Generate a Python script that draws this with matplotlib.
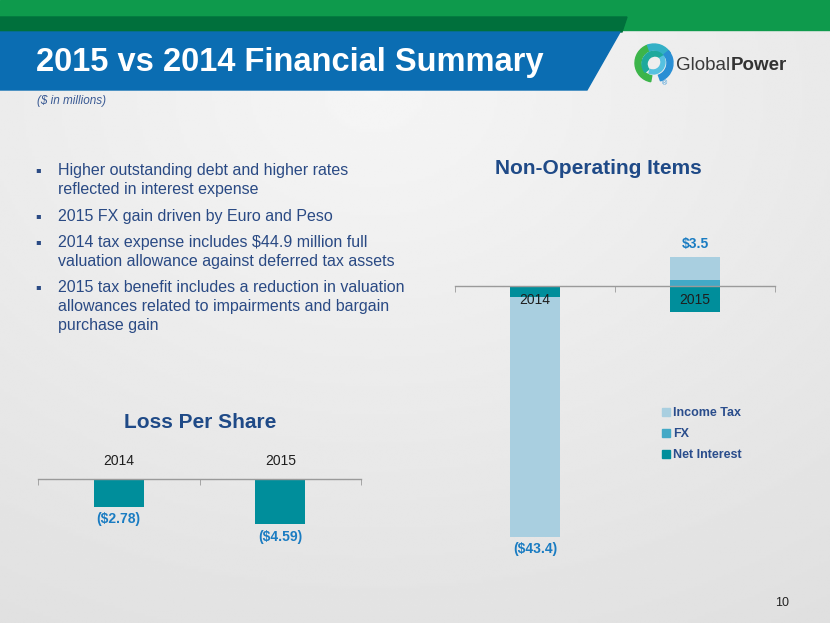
import numpy as np
import matplotlib
matplotlib.use('Agg')
import matplotlib.pyplot as plt
from matplotlib.patches import Polygon, Wedge, Rectangle, Patch

plt.rcParams['font.family'] = ['Liberation Sans', 'DejaVu Sans']

# data
years = ['2014', '2015']
net_interest = [-1.85, -4.5]
fx = [0.0, 1.05]
income_tax = [-41.5, 4.0]
op_labels = ['($43.4)', '$3.5']

loss_per_share = [-2.78, -4.59]
lps_labels = ['($2.78)', '($4.59)']

bullets = [
    ['Higher outstanding debt and higher rates', 'reflected in interest expense'],
    ['2015 FX gain driven by Euro and Peso'],
    ['2014 tax expense includes $44.9 million full', 'valuation allowance against deferred tax assets'],
    ['2015 tax benefit includes a reduction in valuation',
     'allowances related to impairments and bargain', 'purchase gain'],
]

# colours
c_net = '#008e9b'
c_fx = '#43a9c6'
c_tax = '#a9cfe0'
c_val = '#1a7cc2'
c_text = '#2a4a84'
c_head = '#1f4a87'

W, H = 830, 623
fig = plt.figure(figsize=[W / 100, H / 100], dpi=100)

# background in pixel coords
bg = fig.add_axes([0, 0, 1, 1])
bg.set_xlim(0, W)
bg.set_ylim(H, 0)
bg.axis('off')
xx, yy = np.meshgrid(np.linspace(0, 1, 300), np.linspace(0, 1, 225))
d = np.sqrt((xx - 0.45) ** 2 + (yy - 0.15) ** 2)
shade = 0.962 - 0.085 * d
bg.imshow(shade, cmap='gray', vmin=0, vmax=1, extent=[0, W, H, 0], aspect='auto',
          interpolation='bilinear', zorder=0)

# header bands
bg.add_patch(Rectangle((0, 0), W, 30, color='#0e9a4c', zorder=1))
bg.add_patch(Polygon([[0, 17], [627, 17], [622, 32], [0, 32]], closed=True, color='#00703c', zorder=2))
bg.add_patch(Polygon([[0, 32], [620, 32], [587, 90], [0, 90]], closed=True, color='#0b6db2', zorder=3))
bg.text(36, 62, '2015 vs 2014 Financial Summary', color='white', fontsize=23.5,
        fontweight='bold', va='center', ha='left', zorder=4)
bg.text(37, 101, '($ in millions)', color='#3a5a94', fontsize=8.5, style='italic',
        va='center', ha='left', zorder=4)

# logo
cx, cy = 654, 63
bg.add_patch(Wedge((cx, cy), 19, 100, 250, width=6, color='#3cb54a', zorder=4))
bg.add_patch(Wedge((cx + 1, cy + 1), 13, 140, 320, width=5, color='#1ea99c', zorder=4))
bg.add_patch(Wedge((cx, cy), 19, 250, 330, width=6, color='#33b0c6', zorder=4))
bg.add_patch(Wedge((cx, cy), 19, -40, 70, width=6, color='#2a8fd4', zorder=4))
bg.add_patch(Wedge((cx - 1, cy - 1), 12, -30, 110, width=4, color='#56c1e0', zorder=4))
bg.text(cx + 10, cy + 21, '®', fontsize=5, color='#2a8fd4', ha='center', va='center', zorder=4)
bg.text(676, 66, 'Global', fontsize=13.5, color='#3a3a3a', va='center', ha='left', zorder=4)
bg.text(731, 66, 'Power', fontsize=13.5, color='#333333', fontweight='bold', va='center',
        ha='left', zorder=4)

# bullets
y = 170.7
for b in bullets:
    bg.text(38, y - 1, '▪', fontsize=6, color=c_text, va='center', ha='center',
            family=['DejaVu Sans'])
    for line in b:
        bg.text(58, y, line, fontsize=11.5, color=c_text, va='center', ha='left')
        y += 19
    y += 7.4

bg.text(598, 168, 'Non-Operating Items', fontsize=15, fontweight='bold', color=c_head,
        ha='center', va='center')
bg.text(200, 422, 'Loss Per Share', fontsize=15, fontweight='bold', color=c_head,
        ha='center', va='center')
bg.text(782, 603, '10', fontsize=9, color='#222222', ha='center', va='center')


def px_axes(left, top, right, bottom):
    a = fig.add_axes([left / W, 1 - bottom / H, (right - left) / W, (bottom - top) / H])
    a.patch.set_alpha(0)
    return a


def style_axis(a, spine):
    for s in a.spines.values():
        s.set_visible(False)
    a.spines[spine].set_visible(True)
    a.spines[spine].set_position(('data', 0))
    a.spines[spine].set_color('#9a9a9a')
    a.spines[spine].set_linewidth(1)
    a.set_yticks([])
    a.set_xlim(-0.5, 1.5)
    a.set_xticks([0, 1])
    a.set_xticklabels(years)
    a.set_xticks([-0.5, 0.5, 1.5], minor=True)
    a.tick_params(axis='x', which='major', length=0, labelsize=10, labelcolor='#1e1e1e')
    a.tick_params(axis='x', which='minor', length=4, color='#9a9a9a')


# non-operating items
zero, scale = 286, 5.78
ax1 = px_axes(455, 230, 775, 570)
ax1.set_ylim(-(570 - zero) / scale, (zero - 230) / scale)
x = np.arange(len(years))
pos = np.zeros(len(years))
neg = np.zeros(len(years))
handles = []
for vals, col, name in [(net_interest, c_net, 'Net Interest'), (fx, c_fx, 'FX'),
                        (income_tax, c_tax, 'Income Tax')]:
    vals = np.array(vals)
    bottom = np.where(vals >= 0, pos, neg)
    ax1.bar(x, vals, width=0.31, bottom=bottom, color=col, zorder=1)
    pos = pos + np.where(vals >= 0, vals, 0)
    neg = neg + np.where(vals < 0, vals, 0)
    handles.append(Patch(color=col, label=name))
style_axis(ax1, 'bottom')
ax1.tick_params(axis='x', which='major', pad=5)
ax1.tick_params(axis='x', which='minor', direction='out')
for i, lab in enumerate(op_labels):
    if pos[i] > -neg[i]:
        ax1.annotate(lab, (x[i], pos[i]), xytext=(0, 4), textcoords='offset points',
                     ha='center', va='bottom', fontsize=10, fontweight='bold', color=c_val)
    else:
        ax1.annotate(lab, (x[i], neg[i]), xytext=(0, -4), textcoords='offset points',
                     ha='center', va='top', fontsize=10, fontweight='bold', color=c_val)

fig.legend(handles=handles[::-1], loc='upper left', bbox_to_anchor=(662 / W, 1 - 407 / H),
           frameon=False, fontsize=9, handlelength=0.6, handleheight=0.6,
           handletextpad=0.3, labelspacing=0.72, borderpad=0, borderaxespad=0,
           labelcolor='#2a4d8c', prop={'weight': 'bold', 'size': 9})

# loss per share
zero2, scale2 = 479, 9.9
ax2 = px_axes(38, 440, 361, 560)
ax2.set_ylim(-(560 - zero2) / scale2, (zero2 - 440) / scale2)
ax2.bar(x, loss_per_share, width=0.31, color=c_net, zorder=1)
style_axis(ax2, 'top')
ax2.xaxis.set_ticks_position('top')
ax2.tick_params(axis='x', which='major', pad=8)
ax2.tick_params(axis='x', which='minor', direction='in')
for i, lab in enumerate(lps_labels):
    ax2.annotate(lab, (x[i], loss_per_share[i]), xytext=(0, -4), textcoords='offset points',
                 ha='center', va='top', fontsize=10, fontweight='bold', color=c_val)

fig.savefig('out.png', dpi=100)
